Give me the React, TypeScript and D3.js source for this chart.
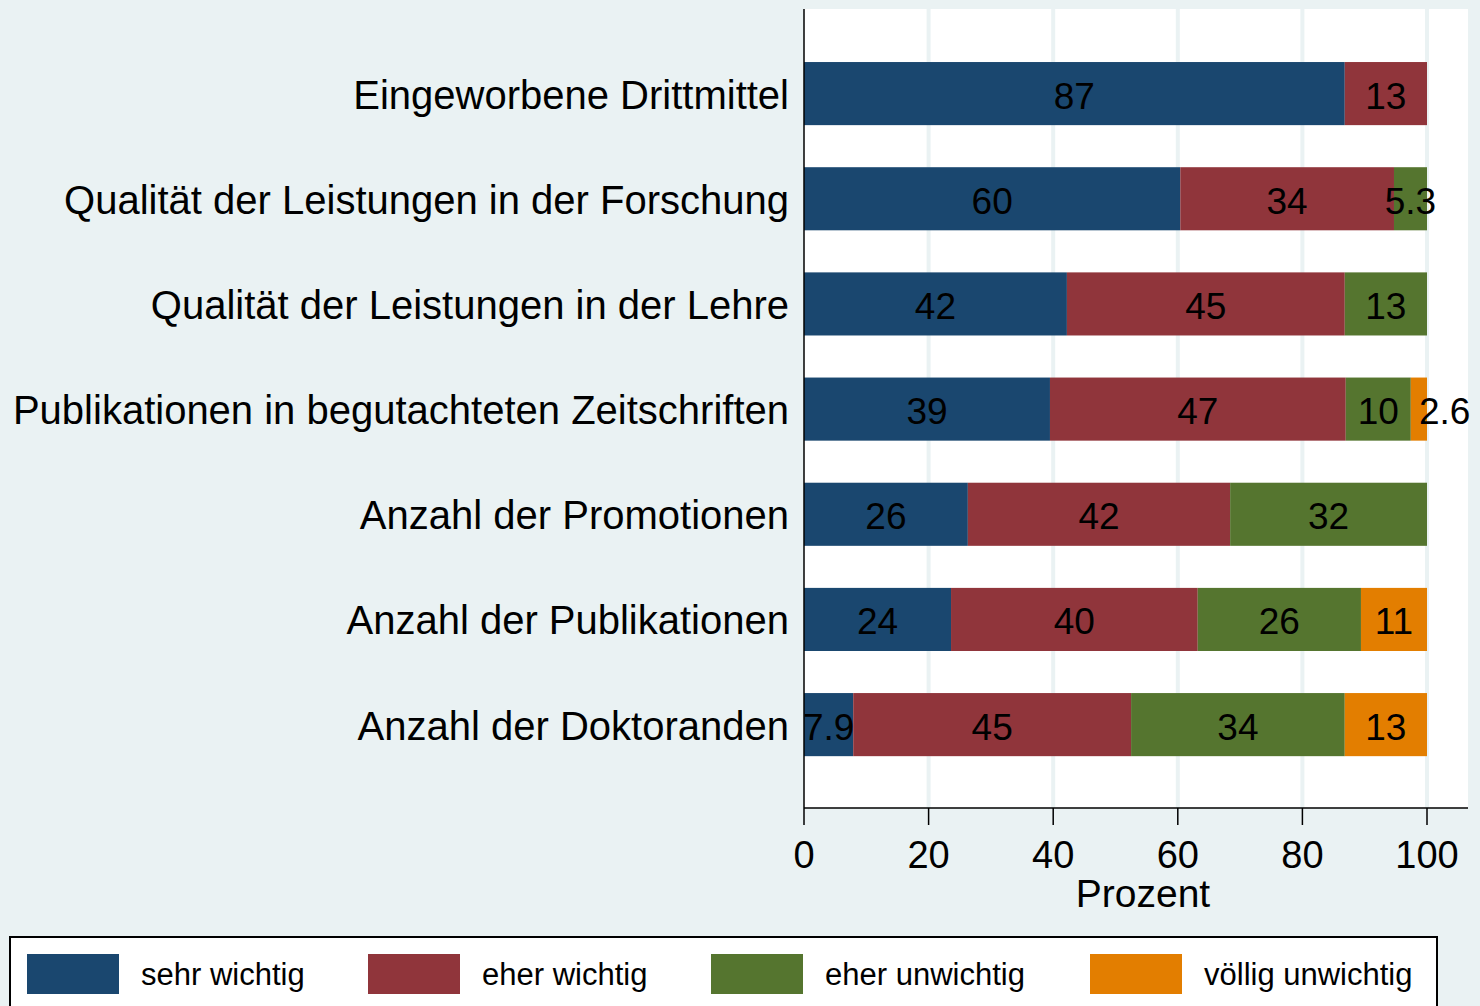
import React from 'react';
import * as d3 from 'd3';

// Kategorien (von oben nach unten)
const categories = [
  'Eingeworbene Drittmittel',
  'Qualität der Leistungen in der Forschung',
  'Qualität der Leistungen in der Lehre',
  'Publikationen in begutachteten Zeitschriften',
  'Anzahl der Promotionen',
  'Anzahl der Publikationen',
  'Anzahl der Doktoranden',
];

const seriesNames = ['sehr wichtig', 'eher wichtig', 'eher unwichtig', 'völlig unwichtig'];

// Prozentwerte je Serie, in der Reihenfolge der Kategorien
const sehrWichtig = [86.8, 60.4, 42.2, 39.48, 26.3, 23.6, 7.9];
const eherWichtig = [13.2, 34.3, 44.6, 47.48, 42.1, 39.6, 44.6];
const eherUnwichtig = [0, 5.3, 13.2, 10.44, 31.6, 26.2, 34.3];
const voelligUnwichtig = [0, 0, 0, 2.6, 0, 10.6, 13.2];

const xTicks = [0, 20, 40, 60, 80, 100];

const colors = ['#1a476f', '#90353b', '#55752f', '#e37e00'];

const FONT = '"Liberation Sans", Arial, Helvetica, sans-serif';

const W = 1480;
const H = 1006;
const plot = { left: 804, right: 1468, top: 9, bottom: 808 };

const fmt = (v: number) => (v >= 10 ? String(Math.round(v)) : v.toFixed(1));

export default function App() {
  const values = [sehrWichtig, eherWichtig, eherUnwichtig, voelligUnwichtig];
  const rows = categories.map((cat, i) => {
    const r: Record<string, any> = { cat };
    seriesNames.forEach((s, k) => (r[s] = values[k][i]));
    return r;
  });
  const stacked = d3.stack().keys(seriesNames)(rows as any);

  const x = d3.scaleLinear().domain([0, 100]).range([804, 1427]);
  const y = d3
    .scaleBand()
    .domain(categories)
    .range([41, 777.2])
    .paddingInner(0.4)
    .paddingOuter(0.2);

  // Legende: Position jedes Eintrags (Layout)
  const legendX = [27, 368, 711, 1090];

  return (
    <svg
      width={W}
      height={H}
      style={{ position: 'absolute', left: 0, top: 0, fontFamily: FONT }}
    >
      <rect width={W} height={H} fill="#eaf2f3" />
      <rect
        x={plot.left}
        y={plot.top}
        width={plot.right - plot.left}
        height={plot.bottom - plot.top}
        fill="#ffffff"
      />
      {/* Gitternetzlinien */}
      {xTicks.slice(1).map((t) => (
        <line
          key={t}
          x1={x(t)}
          x2={x(t)}
          y1={plot.top}
          y2={plot.bottom}
          stroke="#eaf2f3"
          strokeWidth={4}
        />
      ))}

      {/* Balken */}
      {stacked.map((layer, k) => (
        <g key={layer.key} fill={colors[k]}>
          {layer.map((d: any, i: number) => {
            const w = x(d[1]) - x(d[0]);
            if (w <= 0) return null;
            return (
              <rect
                key={i}
                x={x(d[0])}
                y={y(categories[i])}
                width={w}
                height={y.bandwidth()}
              />
            );
          })}
        </g>
      ))}

      {/* Balkenbeschriftungen */}
      {stacked.map((layer) => (
        <g key={'lbl' + layer.key} fontSize={37} fill="#000">
          {layer.map((d: any, i: number) => {
            const v = d[1] - d[0];
            if (v <= 0) return null;
            const cx = x((d[0] + d[1]) / 2);
            const w = x(d[1]) - x(d[0]);
            return (
              <text
                key={i}
                x={cx}
                y={(y(categories[i]) as number) + y.bandwidth() / 2 + 15}
                textAnchor={w < 20 ? 'start' : 'middle'}
              >
                {fmt(v)}
              </text>
            );
          })}
        </g>
      ))}

      {/* Kategorienbeschriftungen */}
      {categories.map((c) => (
        <text
          key={c}
          x={789}
          y={(y(c) as number) + y.bandwidth() / 2 + 15}
          textAnchor="end"
          fontSize={40}
          fill="#000"
        >
          {c}
        </text>
      ))}

      {/* Achsen */}
      <line x1={plot.left} x2={plot.left} y1={plot.top} y2={plot.bottom} stroke="#000" strokeWidth={1.5} />
      <line x1={plot.left} x2={plot.right} y1={plot.bottom} y2={plot.bottom} stroke="#000" strokeWidth={1.5} />
      {xTicks.map((t) => (
        <g key={'t' + t}>
          <line x1={x(t)} x2={x(t)} y1={plot.bottom} y2={plot.bottom + 17} stroke="#000" strokeWidth={1.5} />
          <text x={x(t)} y={868} textAnchor="middle" fontSize={38} fill="#000">
            {t}
          </text>
        </g>
      ))}
      <text x={1143} y={907} textAnchor="middle" fontSize={39} fill="#000">
        Prozent
      </text>

      {/* Legende */}
      <rect x={10} y={937} width={1427} height={80} fill="#ffffff" stroke="#000" strokeWidth={2} />
      {seriesNames.map((s, k) => (
        <g key={'leg' + s}>
          <rect x={legendX[k]} y={954} width={92} height={40} fill={colors[k]} />
          <text x={legendX[k] + 114} y={985} fontSize={31} fill="#000">
            {s}
          </text>
        </g>
      ))}
    </svg>
  );
}
